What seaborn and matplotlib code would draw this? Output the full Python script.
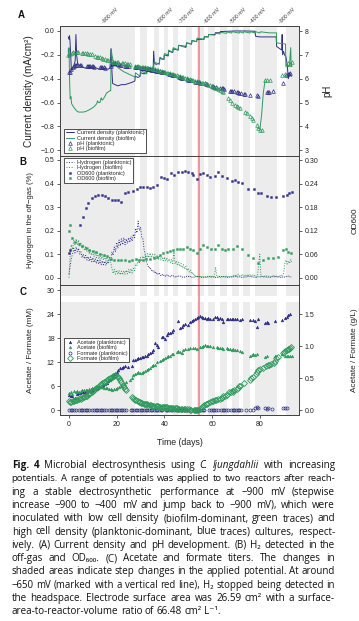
import numpy as np
import pandas as pd
import seaborn as sns
import matplotlib.pyplot as plt
import matplotlib.transforms as mtransforms

# Colours
navy = '#2e2e85'
green = '#2e9a5c'
shade = '#ececec'
red = '#ef9090'

# ---------------- data ----------------
# potential steps (gray = shaded periods, days)
shade_bands = [(-4, 27.7), (29.8, 32.6), (35.6, 37.9), (39.8, 41.6), (43.5, 45.8),
               (49.1, 51.4), (53.5, 56.6), (58.4, 61.2), (63.3, 66.1), (68.2, 71.4),
               (73.1, 75.9), (78.0, 87.1), (91.0, 97)]
red_line_day = 54.4
potential_days = [15.1, 38.2, 47.3, 57.8, 68.8, 77.1, 89.2]
potential_labels = ['-900 mV', '-800 mV', '-700 mV', '-600 mV', '-500 mV', '-400 mV', '-900 mV']

# (A) current density, mA/cm2
cd_plank_days = [-0.3, 0.0, 0.2, 0.4, 0.7, 1.0, 1.5, 2.0, 2.6, 2.9, 3.2, 3.6, 4.5, 5.5, 6.5,
                 7.5, 8.5, 9.5, 10.5, 11.5, 12.5, 13.5, 14.5, 15.5, 16.5, 17.2, 17.6, 17.9,
                 18.3, 19.3, 20.5, 22.0, 23.5, 25.0, 26.5, 27.6, 27.8, 29.0, 29.8, 30.0, 31.5,
                 32.6, 32.8, 34.0, 35.3, 35.5, 35.8, 36.5, 37.9, 38.1, 39.8, 40.0, 41.6, 41.8,
                 43.5, 43.7, 45.8, 46.0, 49.1, 49.3, 51.4, 51.6, 53.5, 53.7, 56.6, 56.8, 58.4,
                 58.6, 61.2, 61.4, 63.3, 63.5, 66.0, 70.0, 74.0, 78.0, 78.3, 80.0, 84.0, 86.9,
                 87.1, 88.5, 89.2, 89.4, 89.6, 90.0, 90.4, 91.0, 91.5, 92.0, 92.5, 93.0, 93.4]
cd_plank = [-0.05, -0.07, -0.04, -0.08, -0.2, -0.33, -0.31, -0.29, -0.25, -0.03, -0.2, -0.27,
            -0.29, -0.3, -0.31, -0.31, -0.31, -0.3, -0.31, -0.31, -0.32, -0.32, -0.31, -0.32,
            -0.32, -0.31, -0.15, -0.3, -0.44, -0.45, -0.46, -0.45, -0.45, -0.44, -0.43, -0.42,
            -0.38, -0.39, -0.38, -0.35, -0.36, -0.35, -0.32, -0.33, -0.32, -0.17, -0.27, -0.28,
            -0.27, -0.23, -0.24, -0.2, -0.21, -0.17, -0.18, -0.15, -0.16, -0.12, -0.13, -0.1,
            -0.11, -0.08, -0.09, -0.07, -0.07, -0.05, -0.05, -0.03, -0.03, -0.015, -0.015,
            -0.005, -0.003, 0.0, 0.0, -0.002, -0.045, -0.05, -0.05, -0.05, -0.13, -0.15, -0.16,
            -0.03, -0.2, -0.17, -0.2, -0.22, -0.28, -0.4, -0.35, -0.37, -0.38]

cd_bio_days = [-0.3, -0.2, 0.0, 0.3, 0.5, 0.8, 1.1, 2.0, 3.2, 4.0, 5.0, 6.0, 7.0, 8.1, 9.0,
               10.2, 11.0, 11.6, 12.0, 12.3, 13.0, 13.5, 13.9, 14.4, 15.0, 15.8, 16.5, 17.3,
               17.5, 17.7, 18.0, 18.6, 19.3, 20.7, 22.8, 24.9, 27.0, 27.7, 27.9, 29.8, 30.0,
               32.6, 32.8, 35.5, 35.7, 37.9, 38.1, 39.8, 40.0, 41.6, 41.8, 43.5, 43.7, 45.8,
               46.0, 49.1, 49.3, 51.4, 51.6, 53.5, 53.7, 56.6, 56.8, 58.4, 58.6, 61.2, 61.4,
               63.3, 63.5, 66.1, 66.3, 68.2, 68.4, 71.4, 71.6, 73.1, 73.3, 75.9, 76.1, 78.0,
               78.2, 80.1, 80.3, 84.0, 87.0, 87.1, 90.8, 91.0, 91.5, 92.0, 92.5, 93.0, 93.2, 93.4]
cd_bio = [-0.15, -0.22, -0.14, -0.45, -0.57, -0.55, -0.61, -0.64, -0.67, -0.68, -0.68, -0.68,
          -0.675, -0.665, -0.655, -0.64, -0.625, -0.61, -0.585, -0.6, -0.6, -0.56, -0.58, -0.57,
          -0.55, -0.52, -0.51, -0.5, -0.5, -0.15, -0.2, -0.26, -0.28, -0.31, -0.34, -0.36,
          -0.38, -0.385, -0.35, -0.38, -0.33, -0.36, -0.30, -0.32, -0.26, -0.28, -0.22, -0.24,
          -0.19, -0.2, -0.16, -0.18, -0.14, -0.16, -0.12, -0.14, -0.10, -0.11, -0.08, -0.09,
          -0.06, -0.07, -0.045, -0.05, -0.03, -0.035, -0.02, -0.025, -0.012, -0.02, -0.008,
          -0.018, -0.006, -0.018, -0.006, -0.018, -0.006, -0.017, -0.006, -0.017, -0.006,
          -0.017, -0.007, -0.016, -0.016, -0.10, -0.11, -0.3, -0.28, -0.3, -0.28, -0.14, -0.3,
          -0.27]

# (A) pH
ph_plank_days = [0.0, 0.5, 1.0, 1.5, 2.0, 2.5, 3.0, 3.5, 4.5, 5.0,
                 7.5, 8.0, 8.5, 9.0, 9.5, 10.0, 10.5,
                 13.0, 13.5, 14.0, 14.5, 15.0,
                 17.5, 18.0, 18.5, 19.0, 19.5, 20.0,
                 21.0, 21.5, 22.0,
                 23.5, 24.0, 24.5, 25.0,
                 27.5, 28.0, 28.5, 29.5, 30.0, 30.5, 31.0, 31.5, 32.0, 32.5, 33.0, 33.5, 34.0,
                 34.5, 35.0, 35.5, 36.0, 36.5, 37.0, 37.5, 38.0, 38.5, 39.0, 39.5, 40.0,
                 42.0, 42.5, 43.0, 43.5, 44.0,
                 46.0, 46.5, 47.0, 47.5,
                 49.5, 50.0, 50.5, 51.0,
                 53.0, 53.5, 54.0, 54.5, 55.0,
                 57.0, 57.5, 58.0,
                 60.0, 60.5, 61.0, 61.5,
                 63.5, 64.0, 64.5, 65.0,
                 67.5, 68.0, 68.5, 69.0,
                 70.5, 71.0, 71.5, 72.0,
                 73.5, 74.0,
                 75.9, 78.7, 79.4, 83.0, 83.5, 84.0, 85.5, 89.6, 91.0, 92.0, 92.7]
ph_plank = [6.29, 6.3, 6.42, 6.5, 6.55, 6.58, 6.58, 6.57, 6.58, 6.56,
            6.55, 6.54, 6.54, 6.53, 6.52, 6.52, 6.51,
            6.5, 6.5, 6.49, 6.48, 6.47,
            6.55, 6.6, 6.64, 6.66, 6.65, 6.63,
            6.6, 6.58, 6.58,
            6.55, 6.55, 6.53, 6.52,
            6.5, 6.5, 6.49, 6.48, 6.47, 6.46, 6.45, 6.44, 6.43, 6.42, 6.41, 6.4, 6.39,
            6.38, 6.37, 6.36, 6.35, 6.34, 6.33, 6.32, 6.31, 6.3, 6.29, 6.28, 6.27,
            6.2, 6.19, 6.17, 6.16, 6.15,
            6.08, 6.07, 6.05, 6.04,
            5.97, 5.96, 5.95, 5.94,
            5.88, 5.87, 5.86, 5.85, 5.84,
            5.8, 5.79, 5.78,
            5.7, 5.69, 5.67, 5.66,
            5.62, 5.61, 5.6, 5.59,
            5.5, 5.49, 5.48, 5.47,
            5.44, 5.43, 5.42, 5.42,
            5.38, 5.37,
            5.32, 5.3, 5.28, 5.44, 5.45, 5.46, 5.48, 5.82, 6.16, 6.2, 6.23]

ph_bio_days = [-0.3, 0.4, 1.1, 1.8, 2.5, 3.2, 3.9, 5.3, 6.0, 6.7, 7.4, 8.1, 8.8, 9.5,
               10.9, 11.6, 12.3, 13.0, 13.7, 14.4, 15.1, 15.8, 16.5,
               17.9, 18.6, 19.3, 20.0, 20.7,
               22.1, 22.8, 23.5, 24.2, 24.9, 25.6,
               27.7, 28.4, 29.1, 29.8, 30.5, 31.2, 31.9, 32.6, 33.3, 34.0, 34.7, 35.4, 36.1,
               36.8, 37.5, 38.2, 38.9, 39.6, 40.3, 41.0, 41.7, 42.4, 43.1, 43.8, 44.5, 45.2,
               45.9, 46.6, 47.3, 48.0, 48.7, 49.4, 50.1, 50.8, 51.5, 52.2, 52.9, 53.6, 54.3,
               55.0, 55.7, 56.4, 57.1, 57.8, 58.5, 59.2, 59.9, 60.6, 61.3, 62.0, 62.7, 63.4,
               64.1, 64.8,
               66.8, 67.5, 68.2,
               69.6, 70.3, 71.0, 71.7,
               73.8, 74.5,
               75.9, 76.6, 77.3,
               78.7, 79.4, 80.1, 80.8,
               82.2, 82.9, 84.3,
               89.2, 90.6, 92.0, 92.7, 93.4]
ph_bio = [7.0, 7.04, 7.06, 7.1, 7.13, 7.14, 7.13, 7.08, 7.07, 7.06, 7.06, 7.05, 7.04, 7.03,
          6.95, 6.93, 6.92, 6.9, 6.86, 6.84, 6.82, 6.8, 6.79,
          6.74, 6.72, 6.7, 6.69, 6.68,
          6.66, 6.65, 6.64, 6.62, 6.62, 6.6,
          6.55, 6.53, 6.52, 6.51, 6.5, 6.49, 6.48, 6.47, 6.46, 6.44, 6.43, 6.41, 6.4,
          6.38, 6.36, 6.34, 6.32, 6.3, 6.28, 6.26, 6.24, 6.22, 6.2, 6.18, 6.16, 6.14,
          6.12, 6.1, 6.08, 6.06, 6.04, 6.02, 6.0, 5.98, 5.96, 5.94, 5.92, 5.9, 5.88,
          5.86, 5.84, 5.82, 5.8, 5.78, 5.75, 5.72, 5.7, 5.66, 5.63, 5.6, 5.57, 5.54,
          5.5, 5.46,
          5.2, 5.1, 5.0,
          4.9, 4.85, 4.82, 4.78,
          4.6, 4.55,
          4.45, 4.35, 4.25,
          4.06, 3.95, 3.85, 3.83,
          5.95, 5.95, 5.93,
          6.16, 6.2, 6.64, 6.6, 6.7]
ph_bio_trace_days = [79.4, 80.1, 80.8, 81.5, 82.2]
ph_bio_trace = [3.92, 3.9, 4.5, 5.4, 5.9]

# (B) hydrogen in off-gas (%), sampled every half day
h2_days = [0.0, 0.5, 1.0, 1.5, 2.0, 2.5, 3.0, 3.5, 4.0, 4.5,
           5.0, 5.5, 6.0, 6.5, 7.0, 7.5, 8.0, 8.5, 9.0, 9.5,
           10.0, 10.5, 11.0, 11.5, 12.0, 12.5, 13.0, 13.5, 14.0, 14.5,
           15.0, 15.5, 16.0, 16.5, 17.0, 17.5, 18.0, 18.5, 19.0, 19.5,
           20.0, 20.5, 21.0, 21.5, 22.0, 22.5, 23.0, 23.5, 24.0, 24.5,
           25.0, 25.5, 26.0, 26.5, 27.0, 27.5, 28.0, 28.5, 29.0, 29.5,
           30.0, 30.5, 31.0, 31.5, 32.0, 32.5, 33.0, 33.5, 34.0, 34.5,
           35.0, 35.5, 36.0, 36.5, 37.0, 37.5, 38.0, 38.5, 39.0, 39.5,
           40.0, 40.5, 41.0, 41.5, 42.0, 42.5, 43.0, 43.5, 44.0, 44.5,
           45.0, 45.5, 46.0, 46.5, 47.0, 47.5, 48.0, 48.5, 49.0, 49.5,
           50.0, 50.5, 51.0, 51.5, 52.0, 52.5, 53.0, 53.5, 54.0, 54.5,
           55.0, 55.5, 56.0, 56.5, 57.0, 57.5, 58.0, 58.5, 59.0, 59.5,
           60.0, 60.5, 61.0, 61.5, 62.0, 62.5, 63.0, 63.5, 64.0, 64.5,
           65.0, 65.5, 66.0, 66.5, 67.0, 67.5, 68.0, 68.5, 69.0, 69.5,
           70.0, 70.5, 71.0, 71.5, 72.0, 72.5, 73.0, 73.5, 74.0, 74.5,
           75.0, 75.5, 76.0, 76.5, 77.0, 77.5, 78.0, 78.5, 79.0, 79.5,
           80.0, 80.5, 81.0, 81.5, 82.0, 82.5, 83.0, 83.5, 84.0, 84.5,
           85.0, 85.5, 86.0, 86.5, 87.0, 87.5, 88.0, 88.5, 89.0, 89.5,
           90.0, 90.5, 91.0, 91.5, 92.0, 92.5, 93.0, 93.5]
h2_plank = [0.015, 0.05, 0.085, 0.1, 0.125, 0.105, 0.13, 0.11, 0.125, 0.1,
            0.11, 0.085, 0.1, 0.08, 0.095, 0.075, 0.09, 0.07, 0.088, 0.068,
            0.085, 0.065, 0.08, 0.06, 0.078, 0.058, 0.075, 0.055, 0.072, 0.055,
            0.07, 0.052, 0.068, 0.06, 0.085, 0.075, 0.11, 0.095, 0.13, 0.11,
            0.15, 0.125, 0.16, 0.135, 0.165, 0.14, 0.17, 0.14, 0.165, 0.145,
            0.17, 0.15, 0.175, 0.155, 0.185, 0.17, 0.21, 0.19, 0.24, 0.2,
            0.215, 0.17, 0.165, 0.12, 0.1, 0.065, 0.055, 0.04, 0.045, 0.03,
            0.035, 0.022, 0.028, 0.016, 0.022, 0.012, 0.018, 0.009, 0.015, 0.007,
            0.013, 0.006, 0.012, 0.005, 0.011, 0.004, 0.01, 0.004, 0.009, 0.003,
            0.008, 0.002, 0.007, 0.003, 0.008, 0.002, 0.006, 0.002, 0.007, 0.003,
            0.006, 0.001, 0.007, 0.002, 0.006, 0.002, 0.007, 0.001, 0.006, 0.002,
            0.006, 0.001, 0.005, 0.002, 0.006, 0.001, 0.005, 0.002, 0.006, 0.001,
            0.005, 0.002, 0.006, 0.001, 0.005, 0.001, 0.006, 0.002, 0.005, 0.001,
            0.006, 0.002, 0.005, 0.001, 0.006, 0.002, 0.005, 0.001, 0.005, 0.002,
            0.006, 0.001, 0.005, 0.002, 0.006, 0.001, 0.005, 0.002, 0.005, 0.001,
            0.006, 0.002, 0.005, 0.001, 0.006, 0.002, 0.005, 0.001, 0.006, 0.002,
            0.005, 0.001, 0.006, 0.002, 0.005, 0.001, 0.006, 0.002, 0.005, 0.001,
            0.006, 0.002, 0.005, 0.001, 0.006, 0.002, 0.005, 0.001, 0.006, 0.002,
            0.005, 0.001, 0.006, 0.002, 0.007, 0.002, 0.006, 0.003]
h2_bio = [0.0, 0.1, 0.14, 0.12, 0.16, 0.14, 0.165, 0.14, 0.16, 0.135,
          0.15, 0.125, 0.14, 0.115, 0.135, 0.11, 0.13, 0.1, 0.12, 0.095,
          0.115, 0.09, 0.11, 0.085, 0.105, 0.08, 0.1, 0.078, 0.098, 0.075,
          0.092, 0.07, 0.088, 0.068, 0.085, 0.065, 0.04, 0.018, 0.035, 0.015,
          0.032, 0.014, 0.03, 0.012, 0.028, 0.012, 0.03, 0.014, 0.032, 0.016,
          0.035, 0.018, 0.038, 0.02, 0.04, 0.03, 0.06, 0.05, 0.075, 0.06,
          0.085, 0.07, 0.092, 0.075, 0.098, 0.08, 0.102, 0.085, 0.105, 0.085,
          0.1, 0.082, 0.098, 0.08, 0.095, 0.078, 0.092, 0.075, 0.09, 0.072,
          0.088, 0.07, 0.085, 0.068, 0.08, 0.065, 0.078, 0.06, 0.11, 0.058,
          0.072, 0.052, 0.066, 0.047, 0.06, 0.042, 0.055, 0.036, 0.048, 0.03,
          0.04, 0.024, 0.032, 0.016, 0.022, 0.008, 0.012, 0.003, 0.006, 0.001,
          0.005, 0.001, 0.006, 0.002, 0.005, 0.001, 0.006, 0.002, 0.005, 0.001,
          0.006, 0.002, 0.005, 0.045, 0.006, 0.002, 0.005, 0.001, 0.006, 0.002,
          0.005, 0.001, 0.006, 0.002, 0.007, 0.003, 0.008, 0.004, 0.01, 0.005,
          0.013, 0.006, 0.015, 0.007, 0.012, 0.006, 0.014, 0.007, 0.013, 0.006,
          0.015, 0.007, 0.012, 0.005, 0.014, 0.006, 0.012, 0.005, 0.01, 0.045,
          0.1, 0.004, 0.008, 0.003, 0.009, 0.003, 0.008, 0.004, 0.009, 0.003,
          0.008, 0.003, 0.009, 0.004, 0.008, 0.003, 0.009, 0.004, 0.01, 0.005,
          0.015, 0.06, 0.075, 0.058, 0.072, 0.06, 0.078, 0.065]

# (B) OD600
od_plank_days = [0.0, 0.6, 4.6, 5.7, 7.1, 8.1, 9.5, 10.9, 12.3, 13.7, 15.1, 16.5, 17.9, 19.3,
                 20.7, 21.7, 23.5, 24.9, 27.0, 28.4, 29.8, 31.2, 32.6, 34.0, 35.4, 36.8, 38.4,
                 39.8, 41.2, 42.6, 44.0, 45.8, 47.2, 48.6, 50.0, 51.4, 52.1, 53.8, 54.9, 56.3,
                 57.7, 59.1, 61.2, 62.6, 64.0, 66.1, 68.2, 69.6, 71.0, 72.4, 75.2, 77.6, 79.4,
                 80.4, 82.9, 84.6, 86.8, 89.9, 91.3, 92.4, 93.4]
od_plank = [0.062, 0.07, 0.134, 0.156, 0.177, 0.19, 0.202, 0.208, 0.211, 0.211, 0.208, 0.202,
            0.198, 0.198, 0.198, 0.194, 0.217, 0.218, 0.222, 0.225, 0.232, 0.23, 0.232, 0.229,
            0.232, 0.236, 0.257, 0.255, 0.252, 0.266, 0.263, 0.27, 0.269, 0.272, 0.269, 0.266,
            0.262, 0.252, 0.264, 0.266, 0.261, 0.257, 0.259, 0.27, 0.259, 0.255, 0.247, 0.249,
            0.245, 0.242, 0.227, 0.226, 0.215, 0.217, 0.208, 0.205, 0.205, 0.208, 0.211, 0.215,
            0.219]
od_bio_days = [0.0, 0.5, 1.2, 2.5, 4.0, 5.5, 7.0, 8.5, 10.0, 11.5, 13.0, 14.5, 16.0, 17.5,
               19.0, 20.5, 22.0, 23.5, 25.0, 26.5, 28.0, 29.5, 31.0, 32.5, 34.0, 35.5, 37.0,
               38.2, 39.5, 40.9, 42.3, 43.7, 45.1, 46.5, 47.9, 49.3, 50.7, 52.1, 53.8, 54.9,
               56.3, 57.7, 59.4, 61.2, 62.6, 64.0, 65.4, 66.8, 68.9, 70.6, 72.4, 75.2, 77.3,
               79.4, 81.5, 83.6, 85.7, 87.8, 89.9, 91.0, 92.0, 93.0]
od_bio = [0.12, 0.135, 0.1, 0.09, 0.085, 0.08, 0.075, 0.07, 0.068, 0.065, 0.06, 0.058, 0.055,
          0.047, 0.045, 0.044, 0.046, 0.044, 0.043, 0.045, 0.047, 0.044, 0.046, 0.048, 0.047,
          0.05, 0.053, 0.058, 0.062, 0.066, 0.068, 0.07, 0.073, 0.074, 0.074, 0.077, 0.072,
          0.07, 0.062, 0.074, 0.083, 0.077, 0.074, 0.074, 0.083, 0.074, 0.07, 0.072, 0.074,
          0.08, 0.074, 0.058, 0.049, 0.037, 0.044, 0.049, 0.051, 0.054, 0.07, 0.074, 0.066,
          0.062]

# (C) acetate and formate, mM
ace_plank_days = [0.0, 0.7, 1.4, 2.5, 3.2, 3.9, 4.6, 5.3, 6.0, 6.7, 7.4, 8.1, 8.8, 9.5, 10.2,
                  11.6, 12.3, 13.0, 13.7, 14.4, 15.1, 15.8, 16.5, 17.2, 17.9, 18.6, 19.3, 20.0,
                  20.7, 21.4, 22.1, 22.8, 23.5, 24.9, 26.3, 27.0, 27.7, 28.4, 29.1, 29.8, 30.5,
                  31.2, 31.9, 32.6, 33.3, 34.0, 34.7, 35.4, 36.1, 36.8, 37.5, 38.9, 39.6, 40.3,
                  41.0, 41.7, 42.4, 43.1, 43.8, 45.8, 46.5, 47.2, 47.9, 48.6, 50.0, 50.7, 51.4,
                  52.1, 52.8, 53.5, 54.2, 54.9, 55.6, 56.3, 57.0, 57.7, 58.4, 59.1, 60.5, 61.2,
                  61.9, 62.6, 63.3, 64.0, 64.7, 66.1, 66.8, 67.5, 68.2, 68.9, 69.6, 70.3, 71.7,
                  72.4, 75.9, 77.3, 78.0, 78.7, 79.4, 82.2, 82.9, 83.6, 86.4, 89.2, 90.6, 91.3,
                  92.0, 92.7]
ace_plank = [3.8, 3.5, 3.6, 3.0, 4.0, 4.2, 4.3, 4.5, 4.5, 4.6, 4.6, 4.7, 4.8, 4.8, 5.0,
             5.3, 5.5, 5.7, 5.9, 6.2, 6.5, 6.8, 7.2, 7.6, 8.0, 8.5, 9.0, 9.5,
             9.9, 10.4, 10.6, 10.8, 11.0, 10.8, 11.0, 12.4, 12.6, 12.8, 12.9, 13.0, 13.2,
             13.3, 13.5, 13.6, 13.9, 14.2, 14.6, 15.0, 16.7, 16.2, 15.8, 18.4, 18.2, 17.9,
             18.8, 19.2, 19.4, 19.6, 20.0, 22.3, 20.6, 20.9, 21.3, 21.6, 21.3, 22.0, 22.3,
             22.5, 22.9, 23.1, 23.3, 23.5, 23.3, 23.1, 23.0, 22.9, 23.0, 22.8, 22.9, 23.2,
             23.4, 22.9, 23.1, 22.7, 22.1, 22.9, 22.8, 22.8, 22.9, 22.9, 22.7, 22.8, 22.6,
             22.7, 22.5, 22.6, 22.4, 20.7, 22.8, 21.8, 22.0, 21.9, 22.2, 22.6, 23.0, 23.3,
             23.7, 24.1]
ace_bio_days = [0.0, 0.7, 1.4, 2.1, 2.8, 3.5, 4.2, 4.9, 5.6, 6.3, 7.0, 7.7, 8.4, 9.1, 9.8,
                10.5, 11.2, 11.9, 12.6, 13.3, 14.0, 14.7, 15.4, 16.1, 16.8, 17.5, 18.2, 18.9,
                19.6, 20.3, 21.0, 21.7, 22.4, 23.1, 23.8, 25.6, 26.3, 27.0, 27.7, 28.4, 29.1,
                29.8, 30.5, 31.2, 31.9, 32.6, 33.3, 34.0, 34.7, 35.4, 36.1, 36.8, 38.2, 38.9,
                39.6, 40.3, 41.0, 41.7, 42.4, 43.1, 43.8, 45.1, 45.8, 46.5, 47.2, 47.9, 48.6,
                50.0, 50.7, 52.1, 52.8, 53.5, 54.9, 55.6, 56.3, 57.0, 57.7, 58.4, 59.1, 60.5,
                61.9, 62.6, 63.3, 64.0, 64.7, 66.1, 66.8, 67.5, 68.2, 68.9, 69.6, 70.3, 71.7,
                72.4, 75.9, 76.6, 77.3, 78.0, 78.7, 82.2, 82.9, 86.4, 89.2, 90.6, 91.3, 92.0,
                92.7, 93.4]
ace_bio = [4.2, 4.6, 4.0, 4.8, 4.5, 4.7, 4.6, 4.8, 4.9, 5.0, 5.0, 5.1, 5.2, 5.3, 5.4,
           5.5, 5.6, 5.8, 5.9, 5.8, 5.7, 5.6, 5.5, 5.4, 5.3, 5.2, 5.1, 5.2,
           5.3, 5.5, 5.7, 6.0, 6.1, 6.5, 7.0, 7.4, 8.0, 8.8, 9.0, 9.2, 9.4,
           9.3, 9.2, 9.5, 9.7, 9.9, 10.2, 10.5, 10.9, 11.2, 11.3, 11.9, 12.3, 12.5,
           12.8, 13.1, 13.3, 13.4, 13.6, 14.0, 14.1, 14.4, 14.8, 14.5, 14.3, 15.0, 15.2,
           15.3, 15.5, 15.6, 15.5, 15.4, 15.9, 15.9, 16.1, 16.2, 16.1, 16.0, 16.0, 15.9,
           15.8, 15.6, 15.6, 15.5, 15.4, 15.5, 15.4, 15.2, 15.0, 15.2, 15.1, 15.0, 14.8,
           14.6, 13.6, 13.8, 13.9, 13.7, 13.9, 13.3, 13.5, 13.5, 14.0, 13.4, 13.6, 13.5,
           13.4, 13.4]
form_plank_days = [0.0, 0.7, 1.4, 2.1, 2.8, 4.2, 4.9, 5.6, 6.3, 7.0, 7.7, 8.4,
                   9.8, 10.5, 11.2, 11.9, 12.6, 13.3, 14.0, 14.7, 15.4,
                   16.8, 17.5, 18.2, 18.9, 19.6, 20.3, 21.0, 21.7, 22.4, 23.1, 23.8,
                   25.9, 26.6, 27.3, 28.0, 28.7, 29.4, 30.1, 30.8, 31.5, 32.2, 32.9, 33.6,
                   34.3, 35.0, 35.7, 36.4, 37.1, 37.8, 38.5, 39.2,
                   40.6, 41.3, 42.0, 42.7, 43.4, 44.1, 44.8, 45.5, 46.2, 46.9, 47.6, 48.3,
                   49.0, 49.7, 50.4,
                   52.5, 53.2, 53.9, 54.6, 55.3, 56.0, 56.7,
                   58.8, 59.5, 60.2, 60.9, 61.6, 62.3,
                   63.7, 64.4, 65.1, 65.8, 66.5,
                   67.9, 68.6, 69.3, 70.0, 70.7, 71.4, 72.1,
                   74.2, 75.9, 77.3, 78.0, 78.7, 79.4, 82.2, 82.9, 83.6, 85.0, 89.9, 90.6, 91.3]
form_plank = [0.0, 0.0, 0.0, 0.0, 0.0, 0.0, 0.0, 0.0, 0.0, 0.0, 0.0, 0.0,
              0.0, 0.0, 0.0, 0.0, 0.0, 0.0, 0.0, 0.0, 0.0,
              0.0, 0.0, 0.0, 0.0, 0.0, 0.0, 0.0, 0.0, 0.0, 0.0, 0.0,
              0.0, 0.0, 0.0, 0.0, 0.0, 0.0, 0.0, 0.0, 0.0, 0.0, 0.0, 0.0,
              0.0, 0.0, 0.0, 0.0, 0.0, 0.0, 0.0, 0.0,
              0.0, 0.0, 0.0, 0.0, 0.0, 0.0, 0.0, 0.0, 0.0, 0.0, 0.0, 0.0,
              0.0, 0.0, 0.0,
              0.0, 0.0, 0.0, 0.0, 0.0, 0.0, 0.0,
              0.0, 0.0, 0.0, 0.0, 0.0, 0.0,
              0.0, 0.0, 0.0, 0.0, 0.0,
              0.0, 0.0, 0.0, 0.0, 0.0, 0.0, 0.0,
              0.0, 0.0, 0.1, 0.4, 0.8, 0.5, 0.4, 0.3, 0.4, 0.3, 0.4, 0.6, 0.5]
form_bio_days = [0.0, 0.5, 1.0, 1.5, 2.0, 2.5, 3.0, 3.5, 4.0, 4.5, 5.0, 5.5, 6.0, 6.5, 7.0,
                 7.5, 8.0, 8.5, 9.0, 9.5, 10.0, 10.5, 11.0, 11.5, 12.0, 12.5, 13.0, 13.5,
                 14.0, 14.5, 15.0, 15.5, 16.0, 16.5, 17.0, 17.5, 18.0, 18.5, 19.0, 19.5, 20.0,
                 20.5, 21.0, 21.5, 22.0, 22.5, 23.0, 23.5, 24.0,
                 26.3, 26.8, 27.3, 27.8, 28.3, 28.8, 29.3, 29.8, 30.3, 30.8, 31.3, 31.8, 32.3,
                 32.8, 33.3, 33.8, 34.3, 34.8, 35.3, 35.8, 36.3, 36.8, 37.3, 37.8, 38.3, 38.8,
                 39.3, 39.8, 40.3, 40.8, 41.3, 41.8, 42.3, 42.8, 43.3, 43.8, 44.3, 44.8, 45.3,
                 45.8, 46.3, 46.8, 47.3, 48.3, 48.8, 49.3, 50.3, 50.8, 51.3, 52.3, 52.8, 53.3,
                 53.8, 54.3, 54.8, 55.3, 55.8, 56.3, 56.8, 57.3, 57.8, 58.3, 59.3, 59.8, 60.3,
                 61.3, 61.8, 62.3, 63.3, 64.3, 64.8, 65.3, 66.3, 67.3, 67.8, 68.3, 68.8, 69.3,
                 70.3, 70.8, 71.3, 71.8, 73.3, 75.8, 76.3, 77.3, 78.3, 78.8, 79.3, 80.3, 81.3,
                 82.8, 83.3, 83.8, 84.8, 85.8, 86.3, 86.8, 87.8, 89.8, 90.3, 90.8, 91.3, 91.8,
                 92.3, 92.8, 93.3]
form_bio = [2.2, 2.0, 2.1, 2.3, 2.2, 2.5, 2.4, 2.6, 2.7, 2.9, 2.8, 3.1, 3.2, 3.3, 3.5,
            3.6, 3.9, 4.1, 4.3, 4.6, 4.8, 5.0, 5.3, 5.5, 5.8, 6.0, 6.2, 6.5,
            6.7, 6.9, 7.1, 7.3, 7.5, 7.7, 7.9, 8.1, 8.3, 8.5, 8.6, 8.7, 8.6,
            8.3, 7.9, 7.4, 6.9, 6.3, 5.8, 5.3, 5.0,
            3.2, 2.9, 2.7, 2.5, 2.4, 2.2, 2.1, 2.0, 1.8, 1.7, 1.6, 1.5, 1.5,
            1.4, 1.3, 1.3, 1.2, 1.1, 1.1, 1.0, 1.0, 0.9, 0.9, 0.85, 0.8, 0.8,
            0.75, 0.75, 0.7, 0.7, 0.65, 0.6, 0.6, 0.55, 0.5, 0.5, 0.45, 0.4, 0.4,
            0.35, 0.35, 0.3, 0.3, 0.25, 0.2, 0.2, 0.15, 0.1, 0.05, 0.0, 0.1, 0.0,
            0.0, 0.1, 0.2, 0.4, 0.7, 0.9, 1.2, 1.4, 1.6, 1.8, 2.0, 2.2, 2.3,
            2.4, 2.6, 2.8, 2.7, 3.1, 3.4, 3.5, 3.7, 4.4, 4.5, 4.7, 4.6, 5.0,
            5.3, 5.6, 5.9, 6.1, 6.8, 7.6, 7.9, 8.2, 9.1, 9.6, 9.9, 10.3, 10.4,
            11.0, 11.2, 11.3, 11.4, 11.8, 12.2, 12.9, 13.2, 14.2, 14.5, 14.7, 15.0, 15.2,
            15.3, 15.5, 15.8]

caption_lines = [
    "Fig. 4  Microbial electrosynthesis using C. ljungdahlii with increasing",
    "potentials. A range of potentials was applied to two reactors after reach-",
    "ing a stable electrosynthetic performance at \u2212900 mV (stepwise",
    "increase \u2212900 to \u2212400 mV and jump back to \u2212900 mV), which were",
    "inoculated with low cell density (biofilm-dominant, green traces) and",
    "high cell density (planktonic-dominant, blue traces) cultures, respect-",
    "ively. (A) Current density and pH development. (B) H\u2082 detected in the",
    "off-gas and OD\u2086\u2080\u2080. (C) Acetate and formate titers. The changes in",
    "shaded areas indicate step changes in the applied potential. At around",
    "\u2212650 mV (marked with a vertical red line), H\u2082 stopped being detected in",
    "the headspace. Electrode surface area was 26.59 cm\u00b2 with a surface-",
    "area-to-reactor-volume ratio of 66.48 cm\u00b2 L\u207b\u00b9.",
]

# ---------------- figure ----------------
sns.set_style('ticks')
plt.rcParams['font.family'] = ['Liberation Sans', 'DejaVu Sans']

W, H = 359, 621
fig = plt.figure(figsize=(W / 100, H / 100), dpi=100)


def px_axes(left, top, right, bottom):
    return fig.add_axes([left / W, 1 - bottom / H, (right - left) / W, (bottom - top) / H])


axA = px_axes(60.3, 26.3, 299.3, 155.5)
axB = px_axes(60.3, 155.5, 299.3, 285.0)
axC = px_axes(60.3, 285.0, 299.3, 415.0)
axA2, axB2, axC2 = axA.twinx(), axB.twinx(), axC.twinx()

for ax in (axA, axB, axC, axA2, axB2, axC2):
    ax.set_xlim(-3.65, 96.6)
    for s in ax.spines.values():
        s.set_color('#444444')
        s.set_linewidth(0.7)
    ax.tick_params(direction='out', length=2.5, width=0.6, color='#444444',
                   labelsize=5, pad=1.5, labelcolor='#222222')

for ax in (axA, axB, axC):
    for a, b in shade_bands:
        ax.axvspan(a, b, color=shade, lw=0, zorder=0.3)
axC.axhspan(27.1, 28.6, color='white', lw=0, zorder=0.4)
for ax in (axA, axB, axC):
    ax.axvline(red_line_day, color=red, lw=1.3, zorder=0.6)

line_kw = dict(estimator=None, sort=False, errorbar=None)
mark_kw = dict(estimator=None, sort=False, errorbar=None, linestyle='none')

# panel A
sns.lineplot(x=cd_plank_days, y=cd_plank, ax=axA, color=navy, lw=0.7,
             label='Current density (planktonic)', **line_kw)
sns.lineplot(x=cd_bio_days, y=cd_bio, ax=axA, color=green, lw=0.7,
             label='Current density (biofilm)', **line_kw)
sns.lineplot(x=ph_plank_days, y=ph_plank, ax=axA2, color=navy, marker='^', ms=2.6,
             mfc='none', mec=navy, mew=0.5, label='pH (planktonic)', **mark_kw)
sns.lineplot(x=ph_bio_days, y=ph_bio, ax=axA2, color=green, marker='^', ms=2.6,
             mfc='none', mec=green, mew=0.5, label='pH (biofilm)', **mark_kw)
sns.lineplot(x=ph_bio_trace_days, y=ph_bio_trace, ax=axA2, color=green, lw=0.7,
             legend=False, **line_kw)

# panel B
sns.lineplot(x=h2_days, y=h2_plank, ax=axB, color=navy, lw=0.7, ls=':',
             label='Hydrogen (planktonic)', **line_kw)
sns.lineplot(x=h2_days, y=h2_bio, ax=axB, color=green, lw=0.7, ls=':',
             label='Hydrogen (biofilm)', **line_kw)
sns.lineplot(x=od_plank_days, y=od_plank, ax=axB2, color=navy, marker='s', ms=1.4,
             mfc=navy, mec=navy, mew=0.3, label='OD600 (planktonic)', **mark_kw)
sns.lineplot(x=od_bio_days, y=od_bio, ax=axB2, color=green, marker='s', ms=1.4,
             mfc=green, mec=green, mew=0.3, label='OD600 (biofilm)', **mark_kw)

# panel C
sns.lineplot(x=ace_plank_days, y=ace_plank, ax=axC, color=navy, marker='^', ms=2.0,
             mfc=navy, mec=navy, mew=0.3, label='Acetate (planktonic)', **mark_kw)
sns.lineplot(x=ace_bio_days, y=ace_bio, ax=axC, color=green, marker='^', ms=2.0,
             mfc=green, mec=green, mew=0.3, label='Acetate (biofilm)', **mark_kw)
sns.lineplot(x=form_plank_days, y=form_plank, ax=axC, color=navy, marker='o', ms=2.2,
             mfc='none', mec=navy, mew=0.5, label='Formate (planktonic)', **mark_kw)
sns.lineplot(x=form_bio_days, y=form_bio, ax=axC, color=green, marker='D', ms=3.0,
             mfc='none', mec=green, mew=0.6, label='Formate (biofilm)', **mark_kw)

# axes limits / ticks
axA.set_ylim(-1.044, 0.039)
axA.set_yticks([-1.0, -0.8, -0.6, -0.4, -0.2, 0.0])
axA2.set_ylim(2.782, 8.197)
axA2.set_yticks([3, 4, 5, 6, 7, 8])
axB.set_ylim(-0.031, 0.519)
axB.set_yticks([0.0, 0.1, 0.2, 0.3, 0.4, 0.5])
axB2.set_ylim(-0.0186, 0.3115)
axB2.set_yticks([0.0, 0.06, 0.12, 0.18, 0.24, 0.30])
axC.set_ylim(-1.25, 31.3)
axC.set_yticks([0, 6, 12, 18, 24, 30])
axC2.set_ylim(-1.25 * 0.0625, 31.3 * 0.0625)
axC2.set_yticks([0.0, 0.5, 1.0, 1.5])
axC.set_xticks([0, 20, 40, 60, 80])
for ax in (axA, axB):
    ax.tick_params(axis='x', bottom=False, labelbottom=False)

lab_col = '#222222'
axA.set_ylabel('Current density (mA/cm\u00b2)', fontsize=7.2, color=lab_col)
axA2.set_ylabel('pH', fontsize=7.0, color=lab_col)
axB.set_ylabel('Hydrogen in the off\u2212gas (%)', fontsize=5.5, color=lab_col)
axB2.set_ylabel('OD600', fontsize=6.0, color=lab_col)
axC.set_ylabel('Acetate / Formate (mM)', fontsize=5.9, color=lab_col)
axC2.set_ylabel('Acetate / Formate (g/L)', fontsize=5.9, color=lab_col)
axC.set_xlabel('Time (days)', fontsize=6.3, color=lab_col)
for ax in (axA, axB, axC):
    ax.yaxis.set_label_coords(-0.112, 0.5)
axA2.yaxis.set_label_coords(1.098, 0.5)
axB2.yaxis.set_label_coords(1.218, 0.5)
axC2.yaxis.set_label_coords(1.218, 0.5)
axC.xaxis.set_label_coords(0.5, -0.18)

# legends (gathered from both y axes, drawn on the twin so they sit on top)
leg_kw = dict(fontsize=4, frameon=True, fancybox=False, edgecolor='#333333', framealpha=1,
              borderpad=0.3, labelspacing=0.05, handlelength=1.4, handletextpad=0.5,
              borderaxespad=0)
for ax, ax2, loc, anchor in ((axA, axA2, 'lower left', (0.017, 0.02)),
                             (axB, axB2, 'upper left', (0.017, 0.978)),
                             (axC, axC2, 'upper left', (0.017, 0.59))):
    h1, l1 = ax.get_legend_handles_labels()
    h2, l2 = ax2.get_legend_handles_labels()
    for a in (ax, ax2):
        if a.get_legend() is not None:
            a.get_legend().remove()
    leg = ax2.legend(h1 + h2, l1 + l2, loc=loc, bbox_to_anchor=anchor, **leg_kw)
    leg.get_frame().set_linewidth(0.6)

# potential labels above panel A
trans = mtransforms.blended_transform_factory(axA.transData, axA.transAxes)
for d, lab in zip(potential_days, potential_labels):
    axA.text(d, 1.012, lab, transform=trans, rotation=45, rotation_mode='anchor',
             ha='left', va='bottom', fontsize=3.8, color='#333333', clip_on=False)

# panel letters
for letter, (px, py) in zip('ABC', [(21.7, 15.0), (23.3, 161.7), (23.3, 291.7)]):
    fig.text(px / W, 1 - py / H, letter, fontsize=7, fontweight='bold', ha='center',
             va='center', color='#111111')

# caption, justified word by word
renderer = fig.canvas.get_renderer()
cap_family = ['Open Sans', 'DejaVu Sans']
cap_left, cap_right = 11.7, 335.0
cap_fs = 7.1


def caption_words(i, line, fs):
    texts = []
    for j, w in enumerate(line.split()):
        kw = {}
        if i == 0 and j < 2:
            kw['fontweight'] = 'bold'
        if w in ('C.', 'ljungdahlii'):
            kw['fontstyle'] = 'italic'
        texts.append(fig.text(0, 0, w, fontsize=fs, family=cap_family, ha='left',
                              va='baseline', color='#111111', **kw))
    return texts


def space_width(fs):
    p1 = fig.text(0, 0, 'a a', fontsize=fs, family=cap_family)
    p2 = fig.text(0, 0, 'aa', fontsize=fs, family=cap_family)
    sw = p1.get_window_extent(renderer).width - p2.get_window_extent(renderer).width
    p1.remove()
    p2.remove()
    return sw


avail = cap_right - cap_left
for i, line in enumerate(caption_lines):
    fs = cap_fs
    texts = caption_words(i, line, fs)
    widths = [t.get_window_extent(renderer).width for t in texts]
    sw = space_width(fs)
    natural = sum(widths) + sw * (len(texts) - 1)
    if natural > avail:
        # shrink only this line so it fits with normal word spacing
        fs = fs * avail / natural * 0.99
        for t in texts:
            t.set_fontsize(fs)
        widths = [t.get_window_extent(renderer).width for t in texts]
        sw = space_width(fs)
    y = 1 - (468.0 + i * 13.3) / H
    if i < len(caption_lines) - 1:
        gap = (avail - sum(widths)) / (len(texts) - 1)
    else:
        gap = sw
    x = cap_left
    for t, wd in zip(texts, widths):
        t.set_position((x / W, y))
        x += wd + gap

fig.savefig('out.png', dpi=100)
